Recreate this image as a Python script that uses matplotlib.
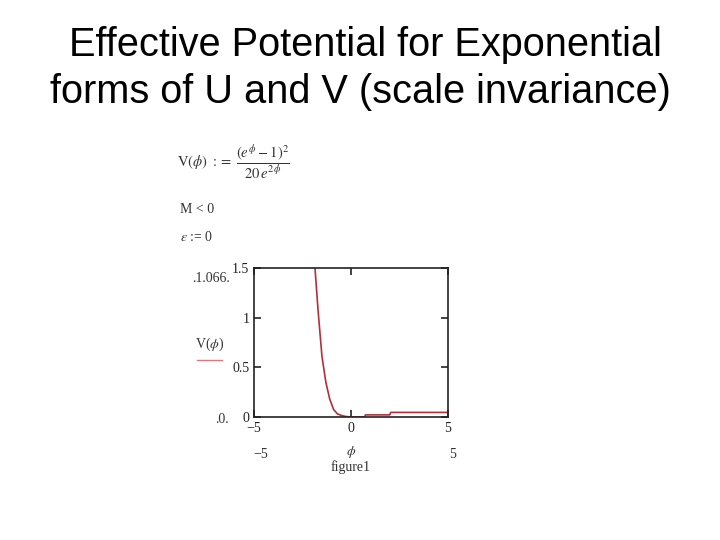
import matplotlib
matplotlib.use("Agg")
import matplotlib.pyplot as plt

# data -----------------------------------
phi = [-1.95, -1.86, -1.7, -1.5, -1.3, -1.1, -0.9, -0.7, -0.5, -0.3, -0.1, 0.0,
       0.7, 0.75, 2.0, 2.05, 5.0]
v_phi = [1.75, 1.5, 1.07, 0.61, 0.35, 0.18, 0.075, 0.03, 0.015, 0.005, 0.001, 0.0,
         0.0, 0.02, 0.02, 0.045, 0.045]

x_ticks = [-5, 0, 5]
y_ticks = [0, 0.5, 1, 1.5]
y_tick_labels = ["0", "0.5", "1", "1.5"]

TITLE_1 = "Effective Potential for Exponential"
TITLE_2 = "forms of U and V (scale invariance)"

# figure ----------
fig = plt.figure(figsize=(7.2, 5.4), dpi=100)
fig.patch.set_facecolor("white")

fig.text(0.507, 0.916, TITLE_1, ha="center", va="center", fontsize=28.6,
         family="Liberation Sans", color="black")
fig.text(0.5, 0.830, TITLE_2, ha="center", va="center", fontsize=28.6,
         family="Liberation Sans", color="black")

serif = "Liberation Serif"
plt.rcParams["mathtext.fontset"] = "stix"
txt_col = "#333333"

# mathcad worksheet bits
fig.text(0.246, 0.70, r"$\mathrm{V}(\phi)\ :=\ \dfrac{\left(e^{\phi}-1\right)^{2}}{20\,e^{2\phi}}$",
         ha="left", va="center", fontsize=10.5, color=txt_col)
fig.text(0.25, 0.612, "M < 0", ha="left", va="center", fontsize=10, family=serif, color=txt_col)
fig.text(0.25, 0.562, r"$\varepsilon$ := 0", ha="left", va="center", fontsize=10, family=serif,
         color=txt_col)

ax = fig.add_axes([0.353, 0.228, 0.269, 0.276])
ax.plot(phi, v_phi, color="#b0303a", linewidth=1.2)
ax.set_xlim(-5, 5)
ax.set_ylim(0, 1.5)
ax.set_xticks(x_ticks)
ax.set_yticks(y_ticks)
ax.set_yticklabels(y_tick_labels)
ax.tick_params(direction="in", length=5, width=1.2, top=True, right=True,
               labelsize=10, colors="#222222")
for lab in ax.get_xticklabels() + ax.get_yticklabels():
    lab.set_family(serif)
for s in ax.spines.values():
    s.set_linewidth(1.2)
    s.set_color("#222222")

# labels around the plot (mathcad style)
fig.text(0.293, 0.485, ".1.066.", ha="center", va="center", fontsize=10, family=serif, color=txt_col)
fig.text(0.291, 0.362, r"V($\phi$)", ha="center", va="center", fontsize=10, family=serif, color=txt_col)
fig.add_artist(plt.Line2D([0.274, 0.308], [0.333, 0.333], color="#d87a80", linewidth=1.0))
fig.text(0.308, 0.224, ".0.", ha="center", va="center", fontsize=10, family=serif, color=txt_col)
fig.text(0.362, 0.158, "\u22125", ha="center", va="center", fontsize=10, family=serif, color=txt_col)
fig.text(0.487, 0.163, r"$\phi$", ha="center", va="center", fontsize=10, color=txt_col)
fig.text(0.628, 0.158, "5", ha="center", va="center", fontsize=10, family=serif, color=txt_col)
fig.text(0.487, 0.135, "figure1", ha="center", va="center", fontsize=10, family=serif, color=txt_col)

fig.savefig("out.png", dpi=100)
